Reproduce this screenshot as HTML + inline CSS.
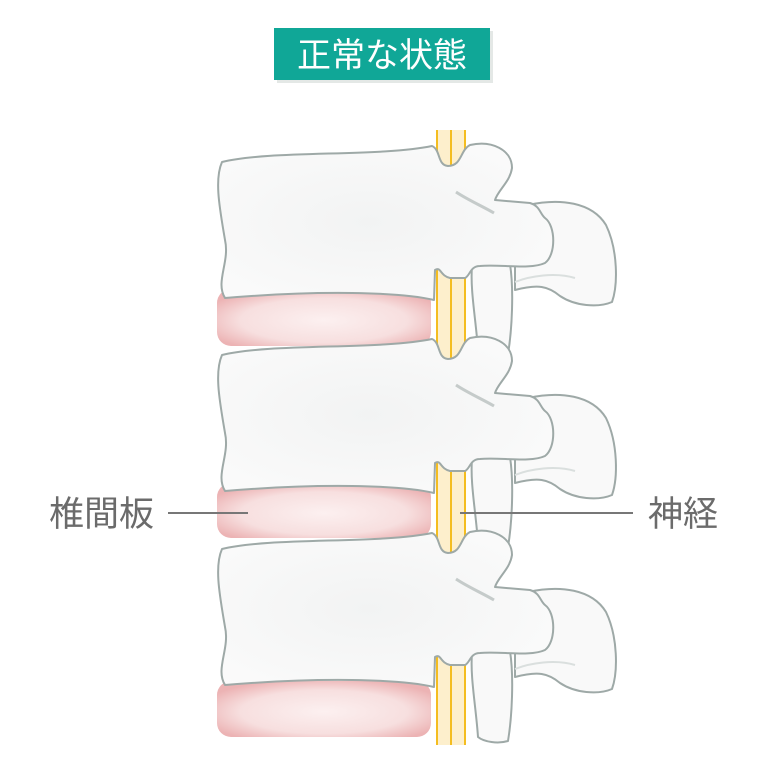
<!DOCTYPE html>
<html><head><meta charset="utf-8"><style>
html,body{margin:0;padding:0;background:#fff;width:770px;height:770px;overflow:hidden}
</style></head><body>
<svg width="770" height="770" viewBox="0 0 770 770" xmlns="http://www.w3.org/2000/svg">
<defs>
<radialGradient id="disc" cx="50%" cy="55%" r="60%">
<stop offset="0" stop-color="#fcf0f0"/><stop offset="0.65" stop-color="#f7dfdf"/><stop offset="1" stop-color="#ecb3b4"/>
</radialGradient>
<radialGradient id="bone" cx="45%" cy="50%" r="65%">
<stop offset="0" stop-color="#f2f3f3"/><stop offset="1" stop-color="#fbfbfb"/>
</radialGradient>
<g id="vert" stroke="#9ea9a7" stroke-width="2" stroke-linejoin="round">
<path fill="#f9f9f9" d="M528,205 C560,198 592,202 606,225 C618,250 618,285 612,302 C598,308 575,306 560,296 C548,286 538,284 515,290 L515,262 Z"/>
<path fill="#f9f9f9" d="M472,266 L510,264 C514,290 512,330 508,354 C498,357 484,355 478,350 C476,320 470,290 472,266 Z"/>
<path fill="url(#bone)" d="M222,162 C270,150 380,157 432,146 C441,150 437,165 448,166 C462,166 460,150 470,145 C492,140 512,150 512,168 C510,182 498,190 495,200 L530,203 C540,206 540,214 545,218 C556,226 556,255 545,263 C530,270 500,264 480,266 C470,266 470,276 465,278 L450,278 C440,276 441,266 435,270 L434,300 C400,292 320,290 225,298 C215,282 230,262 225,240 C220,210 214,180 222,162 Z"/>
<path fill="none" stroke="#c5cbca" stroke-width="3" d="M456,192 C468,200 482,206 494,213"/>
<path fill="none" stroke="#dadfde" stroke-width="2" d="M515,282 C530,276 555,272 575,278"/>
</g>
</defs>
<rect x="277" y="31" width="216" height="52" fill="#d8dedc" opacity="0.7"/>
<rect x="274" y="28" width="216" height="52" fill="#10a797"/>
<text x="382" y="67" text-anchor="middle" fill="#fff" font-size="34" font-family="'Liberation Sans','Noto Sans CJK JP',sans-serif">正常な状態</text>
<rect x="437" y="130" width="28" height="615" fill="#fdefcc"/>
<g stroke="#f4bd20" stroke-width="2"><line x1="437" y1="130" x2="437" y2="745"/><line x1="451" y1="130" x2="451" y2="745"/><line x1="465" y1="130" x2="465" y2="745"/></g>
<rect x="217" y="289" width="214" height="57" rx="14" fill="url(#disc)"/>
<rect x="217" y="483" width="214" height="55" rx="14" fill="url(#disc)"/>
<rect x="217" y="681" width="214" height="56" rx="14" fill="url(#disc)"/>
<use href="#vert"/>
<use href="#vert" transform="translate(0,193)"/>
<use href="#vert" transform="translate(0,387)"/>
<line x1="168" y1="513" x2="248" y2="513" stroke="#777" stroke-width="2"/>
<line x1="460" y1="513" x2="633" y2="513" stroke="#777" stroke-width="2"/>
<text x="49" y="526" fill="#6b6b6b" font-size="35" font-family="'Liberation Sans','Noto Sans CJK JP',sans-serif">椎間板</text>
<text x="648" y="526" fill="#6b6b6b" font-size="35" font-family="'Liberation Sans','Noto Sans CJK JP',sans-serif">神経</text>
</svg>
</body></html>
